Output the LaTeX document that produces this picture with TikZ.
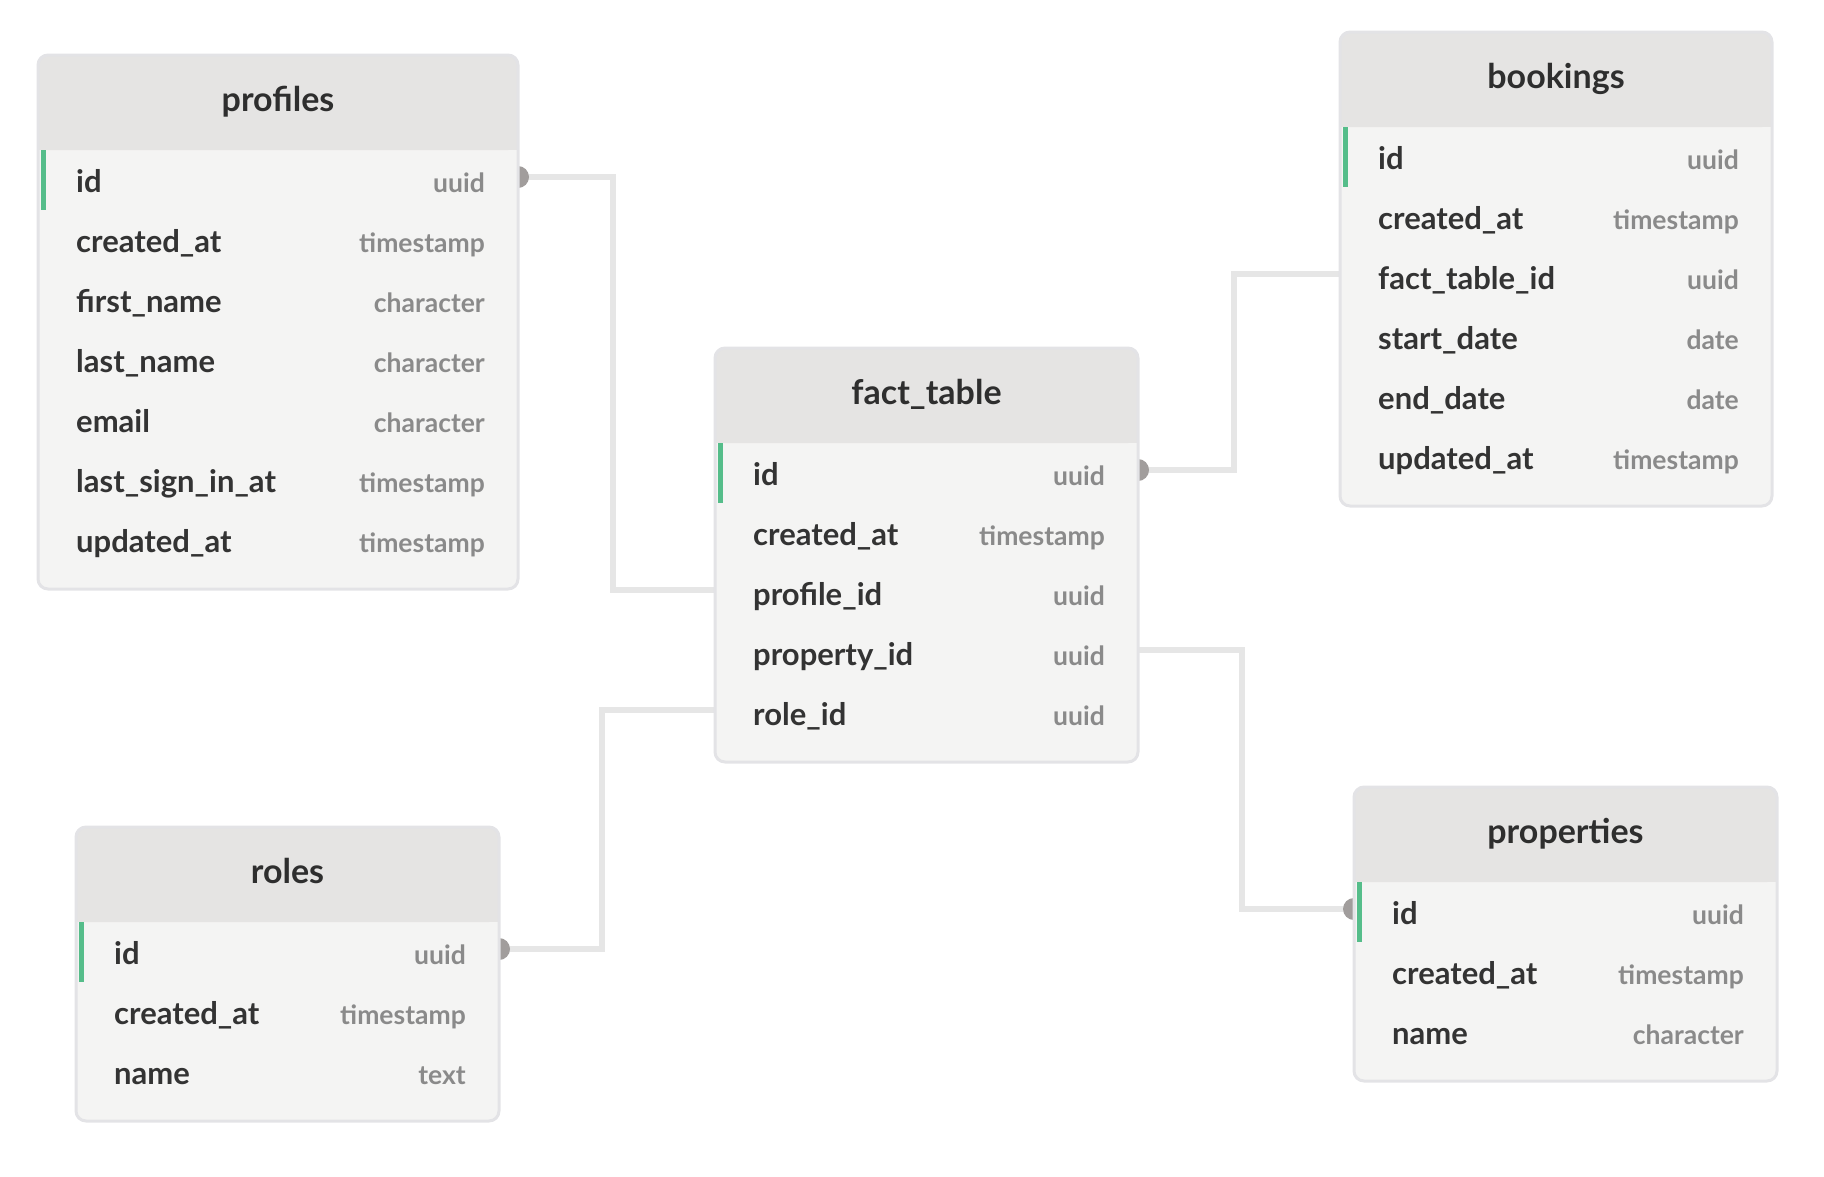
\documentclass[tikz,border=0pt]{standalone}
\usepackage{fontspec}
\setmainfont{Lato}
\newfontfamily\semifont{Lato Semibold}
\usetikzlibrary{positioning}
\usetikzlibrary{calc}

\definecolor{headfill}{HTML}{E5E4E3}
\definecolor{bodyfill}{HTML}{F4F4F3}
\definecolor{edgegray}{HTML}{E3E3E6}
\definecolor{linkgray}{HTML}{E6E6E6}
\definecolor{dotgray}{HTML}{A19D9C}
\definecolor{pkgreen}{HTML}{55BD8A}
\definecolor{titlecol}{HTML}{2E2E2E}
\definecolor{namecol}{HTML}{333333}
\definecolor{typecol}{HTML}{8A8A8A}

\newcommand{\titlefont}{\bfseries\fontsize{34}{40}\selectfont}
\newcommand{\namefont}{\bfseries\fontsize{31}{36}\selectfont}
\newcommand{\typefont}{\bfseries\fontsize{26.5}{32}\selectfont}

\pgfdeclarelayer{bg}
\pgfsetlayers{bg,main}

\tikzset{
  tablebox/.style={rectangle, fill=bodyfill, rounded corners=10pt, inner sep=0pt, outer sep=0pt, anchor=north west},
  tableborder/.style={draw=edgegray, line width=3pt, rounded corners=10pt},
  tabletitle/.style={font=\titlefont, text=titlecol, text height=30pt, text depth=8pt, inner sep=0pt},
  colname/.style={anchor=west, font=\namefont, text=namecol, text height=27pt, text depth=7pt, inner sep=0pt},
  coltype/.style={anchor=east, font=\typefont, text=typecol, text height=27pt, text depth=7pt, inner sep=0pt},
  link/.style={draw=linkgray, line width=5.5pt},
  linkdot/.style={fill=dotgray}
}

\begin{document}
\begin{tikzpicture}[x=1pt,y=-1pt]
\useasboundingbox (0,0) rectangle (1824,1176);

% tables
\node[tablebox, minimum width=480pt, minimum height=534pt] (profiles) at (38,55) {};
\node[tablebox, minimum width=432pt, minimum height=474pt] (bookings) at (1340,32) {};
\node[tablebox, minimum width=423pt, minimum height=414pt] (fact) at (715,348) {};
\node[tablebox, minimum width=423pt, minimum height=294pt] (roles) at (76,827) {};
\node[tablebox, minimum width=423pt, minimum height=294pt] (properties) at (1354,787) {};

% headers
\foreach \t/\ttl in {profiles/profiles, bookings/bookings, fact/fact\_table, roles/roles, properties/properties} {
  \fill[headfill, rounded corners=10pt] (\t.north west) rectangle ([yshift=-95pt]\t.north east);
  \fill[headfill] ([yshift=-75pt]\t.north west) rectangle ([yshift=-95pt]\t.north east);
  \fill[pkgreen] ([xshift=3pt,yshift=-95pt]\t.north west) rectangle ([xshift=8pt,yshift=-155pt]\t.north west);
  \node[tabletitle] (\t-title) at ([yshift=-45pt]\t.north) {\ttl};
}

% columns
\foreach \n/\ty [count=\i from 0] in {id/uuid, created\_at/timestamp, first\_name/character, last\_name/character, email/character, last\_sign\_in\_at/timestamp, updated\_at/timestamp} {
  \node[colname] (profiles-\i) at ([xshift=38pt,yshift=-127pt-60pt*\i]profiles.north west) {\n};
  \node[coltype] (profiles-\i-type) at ([xshift=-33pt,yshift=-127pt-60pt*\i]profiles.north east) {\ty};
}
\foreach \n/\ty [count=\i from 0] in {id/uuid, created\_at/timestamp, fact\_table\_id/uuid, start\_date/date, end\_date/date, updated\_at/timestamp} {
  \node[colname] (bookings-\i) at ([xshift=38pt,yshift=-127pt-60pt*\i]bookings.north west) {\n};
  \node[coltype] (bookings-\i-type) at ([xshift=-33pt,yshift=-127pt-60pt*\i]bookings.north east) {\ty};
}
\foreach \n/\ty [count=\i from 0] in {id/uuid, created\_at/timestamp, profile\_id/uuid, property\_id/uuid, role\_id/uuid} {
  \node[colname] (fact-\i) at ([xshift=38pt,yshift=-127pt-60pt*\i]fact.north west) {\n};
  \node[coltype] (fact-\i-type) at ([xshift=-33pt,yshift=-127pt-60pt*\i]fact.north east) {\ty};
}
\foreach \n/\ty [count=\i from 0] in {id/uuid, created\_at/timestamp, name/text} {
  \node[colname] (roles-\i) at ([xshift=38pt,yshift=-127pt-60pt*\i]roles.north west) {\n};
  \node[coltype] (roles-\i-type) at ([xshift=-33pt,yshift=-127pt-60pt*\i]roles.north east) {\ty};
}
\foreach \n/\ty [count=\i from 0] in {id/uuid, created\_at/timestamp, name/character} {
  \node[colname] (properties-\i) at ([xshift=38pt,yshift=-127pt-60pt*\i]properties.north west) {\n};
  \node[coltype] (properties-\i-type) at ([xshift=-33pt,yshift=-127pt-60pt*\i]properties.north east) {\ty};
}

% borders
\foreach \t in {profiles, bookings, fact, roles, properties}
  \draw[tableborder] (\t.north west) rectangle (\t.south east);

% relations
\begin{pgfonlayer}{bg}
\draw[link] ($(profiles.east |- profiles-0)+(0,-5)$) -- ++(95,0) |- ($(fact.west |- fact-2)+(0,-5)$);
\draw[link] ($(fact.east |- fact-0)+(0,-5)$) -- ++(96,0) |- ($(bookings.west |- bookings-2)+(0,-5)$);
\draw[link] ($(fact.east |- fact-3)+(0,-5)$) -- ++(104,0) |- ($(properties.west |- properties-0)+(0,-5)$);
\draw[link] ($(fact.west |- fact-4)+(0,-5)$) -- ++(-113,0) |- ($(roles.east |- roles-0)+(0,-5)$);
\fill[linkdot] ($(profiles.east |- profiles-0)+(0,-5)$) circle[radius=11pt];
\fill[linkdot] ($(fact.east |- fact-0)+(0,-5)$) circle[radius=11pt];
\fill[linkdot] ($(properties.west |- properties-0)+(0,-5)$) circle[radius=11pt];
\fill[linkdot] ($(roles.east |- roles-0)+(0,-5)$) circle[radius=11pt];
\end{pgfonlayer}
\end{tikzpicture}
\end{document}
